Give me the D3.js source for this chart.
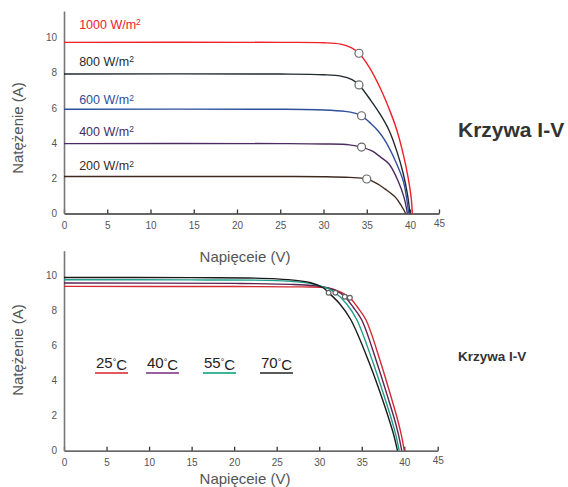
<!DOCTYPE html>
<html>
<head>
<meta charset="utf-8">
<script src="https://cdn.jsdelivr.net/npm/d3@7"></script>
<style>
  body { margin: 0; background: #fff; }
  svg { font-family: "Liberation Sans", Arial, sans-serif; }
  .axis text { fill: #555; font-size: 10px; }
  .x.axis path, .x.axis line { stroke: #333; stroke-width: 1.3; }
  .y.axis path { stroke: #777; stroke-width: 1.6; }
</style>
</head>
<body>
<div id="chart"></div>
<script>
// ticks
const xTicks = [0, 5, 10, 15, 20, 25, 30, 35, 40, 45];
const yTicks = [0, 2, 4, 6, 8, 10];

// top chart: irradiance curves (V, A)
const irrLabels = ["1000 W/m", "800 W/m", "600 W/m", "400 W/m", "200 W/m"];
const irrColors = ["#ee2028", "#1f2a30", "#2f4f9c", "#4a2c62", "#40291f"];
const irrLabelAt = [10.5, 8.4, 6.2, 4.4, 2.45];
const g1000 = [[0, 9.72], [25, 9.72], [30, 9.7], [32, 9.62], [33.2, 9.42], [34.1, 9.1], [35.3, 8.3], [36.5, 7.18], [37.7, 5.8], [38.5, 4.7], [39.25, 3.3], [39.8, 2.0], [40.2, 0.9], [40.4, 0]];
const g800 = [[0, 7.92], [25, 7.92], [30, 7.88], [32, 7.8], [33.3, 7.6], [34.1, 7.3], [35.5, 6.4], [36.6, 5.6], [37.6, 4.7], [38.5, 3.5], [39.2, 2.3], [39.7, 1.1], [40.0, 0]];
const g600 = [[0, 5.92], [25, 5.92], [30, 5.88], [32.5, 5.8], [33.6, 5.7], [34.4, 5.55], [35.5, 5.1], [36.3, 4.7], [37.1, 4.15], [38.3, 3.0], [39.25, 1.8], [39.6, 0.9], [39.85, 0]];
const g400 = [[0, 3.97], [25, 3.97], [30, 3.95], [33, 3.9], [34.4, 3.77], [35.6, 3.55], [36.6, 3.2], [37.6, 2.8], [38.6, 1.875], [39.3, 0.93], [39.7, 0]];
const g200 = [[0, 2.1], [25, 2.1], [30, 2.09], [33, 2.05], [35.0, 1.96], [36.2, 1.7], [37.1, 1.4], [38.3, 0.93], [39.0, 0.44], [39.5, 0]];
const irrMpp = [[34.1, 9.1], [34.1, 7.3], [34.4, 5.55], [34.4, 3.77], [35.0, 1.96]];

// bottom chart: temperature curves (V, A)
const tempLabels = ["25", "40", "55", "70"];
const tempColors = ["#d42a34", "#5c2352", "#1f9e8a", "#1a1a1a"];
const tempKeyColors = ["#e05a5e", "#9b5f9f", "#3db598", "#5a5a5a"];
const t25 = [[0, 9.39], [20, 9.38], [28, 9.36], [31, 9.3], [32.6, 9.05], [33.6, 8.74], [34.5, 8.2], [35.5, 7.47], [37.25, 5.0], [38.55, 2.9], [39.2, 1.8], [39.65, 0.9], [40.0, 0]];
const t40 = [[0, 9.58], [20, 9.56], [27, 9.5], [30, 9.4], [32, 9.15], [33.0, 8.8], [34.0, 8.2], [35.0, 7.47], [36.8, 5.0], [38.16, 2.9], [38.85, 1.8], [39.32, 0.9], [39.7, 0]];
const t55 = [[0, 9.77], [15, 9.76], [25, 9.72], [29, 9.55], [31, 9.28], [31.9, 9.03], [33.2, 8.4], [34.4, 7.5], [36.35, 5.0], [37.78, 2.9], [38.49, 1.8], [39.0, 0.9], [39.4, 0]];
const t70 = [[0, 9.9], [15, 9.89], [25, 9.82], [29, 9.6], [30.5, 9.3], [31.1, 9.03], [32.4, 8.4], [33.7, 7.5], [35.9, 5.0], [37.46, 2.9], [38.2, 1.8], [38.76, 0.9], [39.2, 0]];
const tempMpp = [[33.6, 8.74], [33.0, 8.8], [31.9, 9.03], [31.1, 9.03]];

const svg = d3.select("#chart").append("svg")
    .attr("width", 568)
    .attr("height", 487);

function drawPanel(cfg) {
    const x = d3.scaleLinear().domain([0, 40, 45]).range(cfg.xRange);
    const y = d3.scaleLinear().domain([0, cfg.yMax]).range(cfg.yRange);
    const g = svg.append("g");

    g.append("g")
        .attr("class", "x axis")
        .attr("transform", `translate(0,${cfg.yRange[0]})`)
        .call(d3.axisBottom(x).tickValues(xTicks).tickSize(-4).tickSizeOuter(0).tickPadding(8))
        .call(a => a.selectAll(".tick").filter(d => d === 45).select("text").attr("dy", "0.5em"));

    g.append("g")
        .attr("class", "y axis")
        .attr("transform", `translate(${cfg.xRange[0]},0)`)
        .call(d3.axisLeft(y).tickValues(yTicks).tickSize(0).tickSizeOuter(0).tickPadding(7))
        .call(a => a.selectAll(".tick line").remove());

    const line = d3.line()
        .x(d => x(d[0]))
        .y(d => y(d[1]))
        .curve(d3.curveCatmullRom.alpha(0.5));

    cfg.series.forEach((s, i) => {
        g.append("path")
            .datum(s)
            .attr("d", line)
            .style("fill", "none")
            .style("stroke", cfg.colors[i])
            .style("stroke-width", 1.4);
    });

    g.selectAll("circle.mpp")
        .data(cfg.mpp)
        .enter().append("circle")
        .attr("class", "mpp")
        .attr("cx", d => x(d[0]))
        .attr("cy", d => y(d[1]))
        .attr("r", cfg.r)
        .style("fill", "#fff")
        .style("stroke", "#666")
        .style("stroke-width", 1.2);

    // axis titles
    g.append("text")
        .attr("x", 245)
        .attr("y", cfg.xTitleY)
        .attr("text-anchor", "middle")
        .style("font-size", "15px")
        .style("fill", "#555")
        .text("Napięceie (V)");

    g.append("text")
        .attr("transform", `translate(23,${cfg.yTitleY}) rotate(-90)`)
        .attr("text-anchor", "middle")
        .style("font-size", "15px")
        .style("fill", "#555")
        .text("Natężenie (A)");

    return { g, x, y };
}

const topPanel = drawPanel({
    xRange: [64, 410, 439],
    yRange: [213.5, 11],
    yMax: 11.5,
    series: [g1000, g800, g600, g400, g200],
    colors: irrColors,
    mpp: irrMpp,
    r: 4,
    xTitleY: 262,
    yTitleY: 128
});

// irradiance labels
const lab = topPanel.g.selectAll("text.irr")
    .data(irrLabels)
    .enter().append("text")
    .attr("class", "irr")
    .attr("x", topPanel.x(1.75))
    .attr("y", (d, i) => topPanel.y(irrLabelAt[i]))
    .style("font-size", "12.5px")
    .style("fill", (d, i) => irrColors[i]);
lab.append("tspan").text(d => d);
lab.append("tspan").attr("dy", "-0.45em").style("font-size", "8.5px").text("2");

const bottomPanel = drawPanel({
    xRange: [64, 404.3, 437.7],
    yRange: [450.7, 250.7],
    yMax: 11.43,
    series: [t25, t40, t55, t70],
    colors: tempColors,
    mpp: tempMpp,
    r: 2.4,
    xTitleY: 484,
    yTitleY: 350
});

// temperature key
const keyX = [95, 146, 203, 260];
const key = bottomPanel.g.selectAll("g.key")
    .data(tempLabels)
    .enter().append("g")
    .attr("class", "key")
    .attr("transform", (d, i) => `translate(${keyX[i]},368)`);

const kt = key.append("text")
    .attr("x", 1)
    .style("font-size", "15px")
    .style("fill", "#222");
kt.append("tspan").text(d => d);
kt.append("tspan").attr("dy", "-0.35em").style("font-size", "9px").text("°");
kt.append("tspan").attr("dy", "0.35em").text("C");

key.append("line")
    .attr("x1", 0)
    .attr("x2", 33)
    .attr("y1", 5)
    .attr("y2", 5)
    .style("stroke", (d, i) => tempKeyColors[i])
    .style("stroke-width", 2);

// titles
svg.append("text")
    .attr("x", 458)
    .attr("y", 137)
    .style("font-size", "21px")
    .style("font-weight", "bold")
    .style("fill", "#333")
    .text("Krzywa I-V");

svg.append("text")
    .attr("x", 458)
    .attr("y", 361)
    .style("font-size", "13.5px")
    .style("font-weight", "bold")
    .style("fill", "#333")
    .text("Krzywa I-V");
</script>
</body>
</html>
